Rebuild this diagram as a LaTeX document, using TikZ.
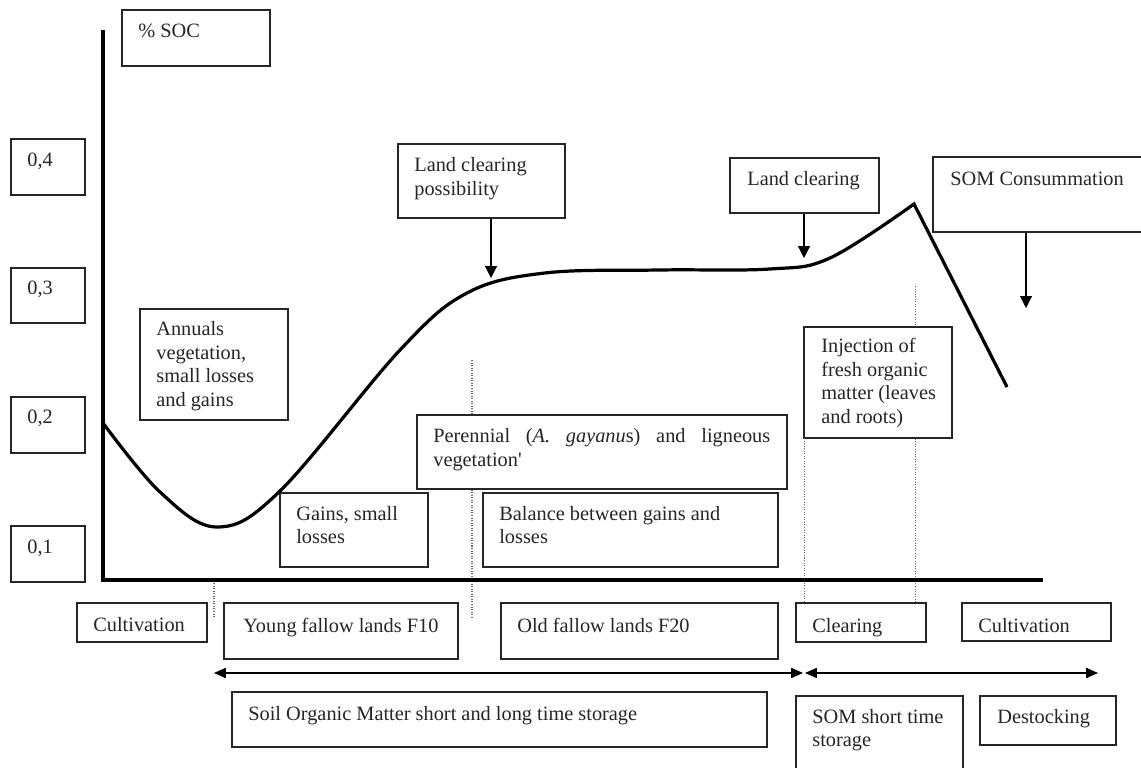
\documentclass[tikz,border=0pt]{standalone}
\usepackage{fontspec}
\setmainfont{Liberation Serif}
\usetikzlibrary{arrows.meta}
\newcommand\tl[1]{\begin{tabular}[t]{@{}l@{}}#1\end{tabular}}
\newcommand\bx[5]{\node[box, minimum width={(#4-#2)*0.59pt}, minimum height={(#5-#3)*0.59pt}] (#1) at ({(#2+#4)/2},{(#3+#5)/2}) {};}
\newcommand\tx[4]{\node[txt] (#1) at (#2,#3) {\tl{#4}};}
\colorlet{ink}{black!85}
\tikzset{
  box/.style={draw=ink, line width=0.65pt, fill=white, inner sep=0pt, rectangle},
  txt/.style={anchor=base west, inner sep=0pt, text=ink},
  axis/.style={line width=1.9pt, black, line join=miter},
  curve/.style={line width=1.9pt, black, line join=miter},
  arr/.style={line width=0.7pt, black, -{Triangle[width=7pt,length=7pt]}},
  darr/.style={line width=0.7pt, black, {Triangle[width=6pt,length=7pt]}-{Triangle[width=6pt,length=7pt]}},
  guide/.style={line width=0.6pt, black!60, dash pattern=on 0.6pt off 0.9pt}
}
\begin{document}
\begin{tikzpicture}[x=0.59pt, y=-0.59pt, font=\fontsize{12}{13.8}\selectfont]
\useasboundingbox (0,0) rectangle (1141,768);

% axes
\coordinate (ytop) at (103,30);
\coordinate (orig) at (103,580);
\coordinate (xend) at (1043,580);

% boxes
\bx{soc}{122}{10}{270}{66}
\bx{v4}{11}{139}{85}{195}
\bx{v3}{11}{268}{85}{323}
\bx{v2}{11}{397}{85}{453}
\bx{v1}{11}{526}{85}{582}
\bx{ann}{140}{309}{288}{420}
\bx{gain}{280}{493}{428}{567}
\bx{per}{417}{415}{787}{489}
\bx{bal}{483}{493}{778}{567}
\bx{lcp}{398}{144}{565}{218}
\bx{lc}{730}{158}{879}{213}
\bx{somc}{933}{157}{1146}{232}
\bx{inj}{804}{327}{952}{438}
\bx{cul}{77}{603}{207}{642}
\bx{young}{224}{603}{458}{659}
\bx{old}{501}{603}{778}{659}
\bx{clr}{796}{603}{926}{642}
\bx{cul2}{962}{603}{1111}{641}
\bx{soil}{232}{692}{767}{747}
\bx{soms}{796}{696}{963}{776}
\bx{dest}{980}{696}{1116}{745}

% texts
\tx{socT}{138}{38}{\% SOC}
\tx{v4T}{27}{167}{0,4}
\tx{v3T}{27}{295}{0,3}
\tx{v2T}{27}{424}{0,2}
\tx{v1T}{27}{553}{0,1}
\tx{annT}{156}{336}{Annuals\\vegetation,\\small losses\\and gains}
\tx{gainT}{296}{520}{Gains, small\\losses}
\tx{perT}{433}{443}{\hbox to 198.8pt{Perennial\hfill(\textit{A.}\hfill\textit{gayanu}s)\hfill and\hfill ligneous}\\vegetation\textquotesingle}
\tx{balT}{499}{520}{Balance between gains and\\losses}
\tx{lcpT}{414}{172}{Land clearing\\possibility}
\tx{lcT}{747}{186}{Land clearing}
\tx{somcT}{950}{186}{SOM Consummation}
\tx{injT}{821}{353}{Injection of\\fresh organic\\matter (leaves\\and roots)}
\tx{culT}{93}{631}{Cultivation}
\tx{youngT}{243}{632}{Young fallow lands F10}
\tx{oldT}{517}{632}{Old fallow lands F20}
\tx{clrT}{812}{632}{Clearing}
\tx{cul2T}{978}{632}{Cultivation}
\tx{soilT}{248}{720}{Soil Organic Matter short and long time storage}
\tx{somsT}{812}{723}{SOM short time\\storage}
\tx{destT}{997}{723}{Destocking}

% guide (dotted) lines
\coordinate (g1a) at (214,583);
\coordinate (g1b) at (214,617);
\coordinate (g2a) at (472,360);
\coordinate (g2b) at (472,617);
\coordinate (g3)  at (804,438);
\coordinate (g4a) at (915,286);
\draw[guide] (g1a) -- (g1b);
\draw[guide] (g2a) -- (per.north -| g2a);
\draw[guide] (per.south -| g2a) -- (g2b);
\draw[guide] (g3) -- (clr.north -| g3);
\draw[guide] (g4a) -- (inj.north -| g4a);
\draw[guide] (inj.south -| g4a) -- (clr.north -| g4a);

% axes
\draw[axis] (ytop) -- (orig) -- (xend);

% SOC curve
\coordinate (peak) at (914,204);
\coordinate (cend) at (1007,387);
\draw[curve] plot[smooth, tension=0.6] coordinates {
 (103,423) (160,492) (217,527) (280,491) (400,350) (467,293)
 (545,273) (660,270) (770,269) (830,258) (914,204)}
 -- (cend);

% vertical arrows
\coordinate (a1) at (491,278);
\coordinate (a2) at (804,258);
\coordinate (a3) at (1026,308);
\draw[arr] (lcp.south -| a1) -- (a1);
\draw[arr] (lc.south -| a2) -- (a2);
\draw[arr] (somc.south -| a3) -- (a3);

% horizontal double arrows
\coordinate (h1) at (214,673);
\coordinate (h2) at (803,673);
\coordinate (h3) at (805,673);
\coordinate (h4) at (1098,673);
\draw[darr] (h1) -- (h2);
\draw[darr] (h3) -- (h4);
\end{tikzpicture}
\end{document}
